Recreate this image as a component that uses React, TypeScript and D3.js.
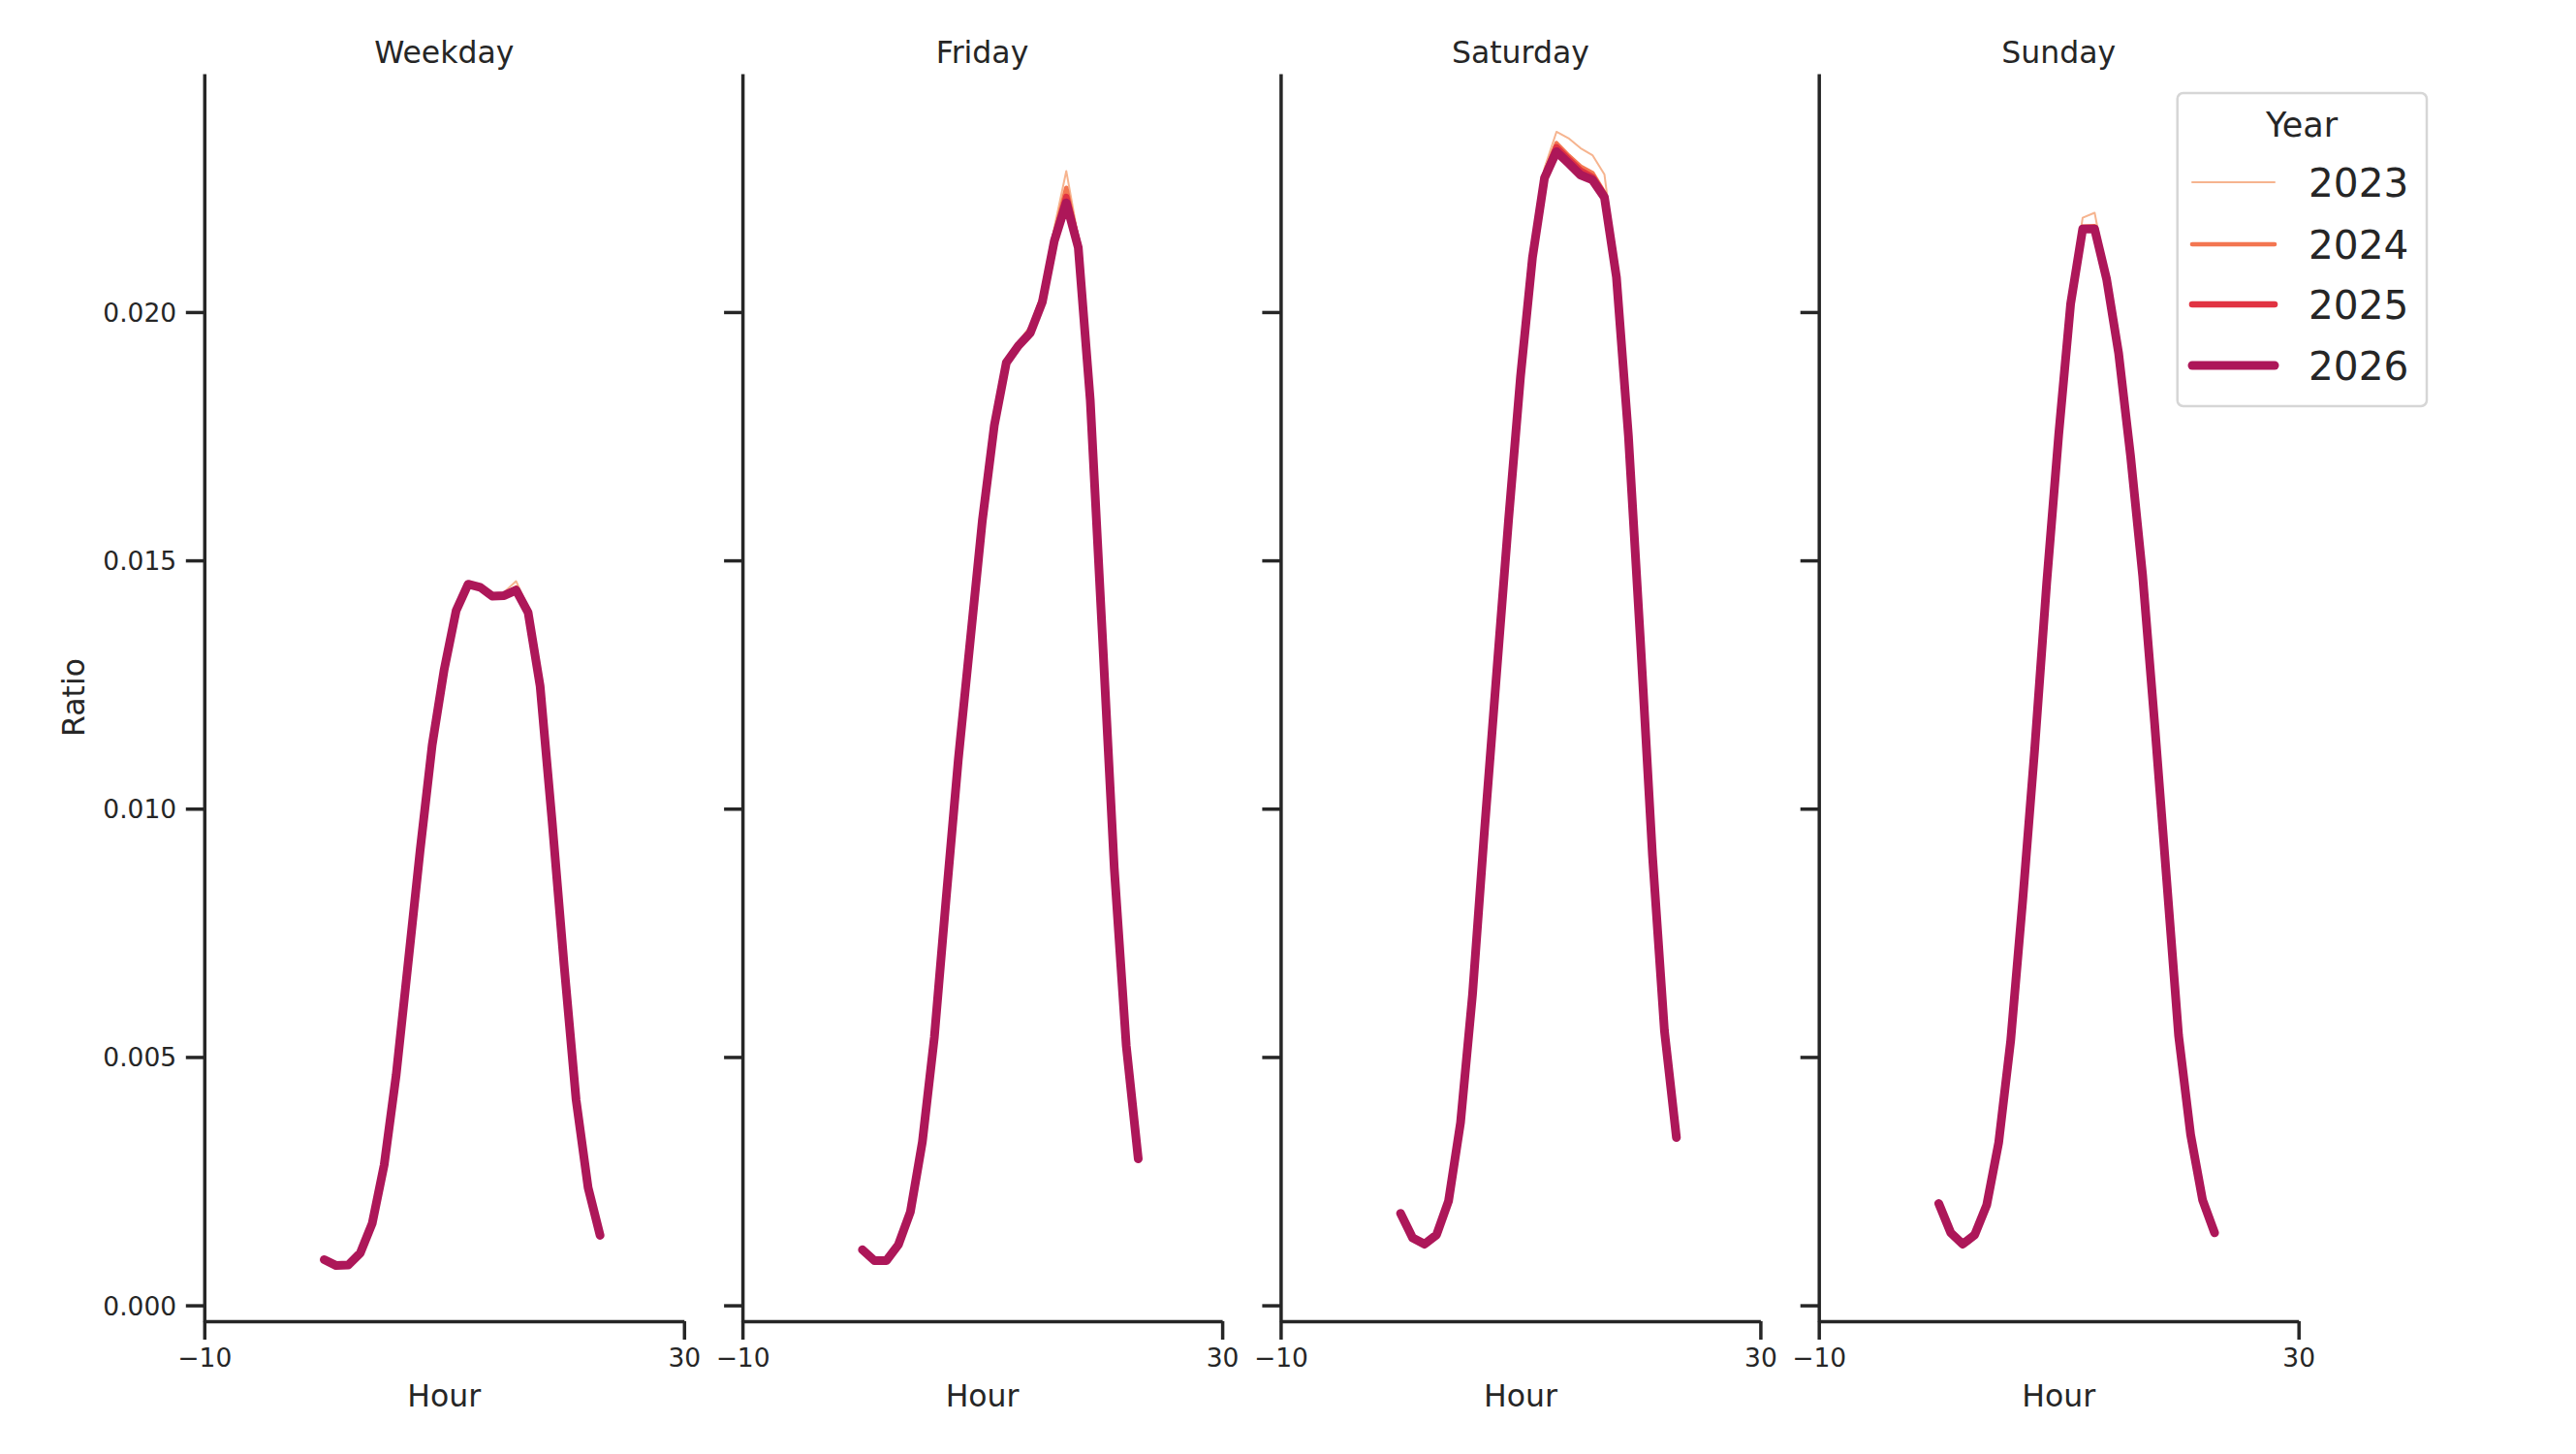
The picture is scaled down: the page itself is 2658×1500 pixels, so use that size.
import { useEffect, useRef } from "react";
import * as d3 from "d3";

// ---- data ----
const hours = [0, 1, 2, 3, 4, 5, 6, 7, 8, 9, 10, 11, 12, 13, 14, 15, 16, 17, 18, 19, 20, 21, 22, 23];
const panels = ["Weekday", "Friday", "Saturday", "Sunday"];
const years = ["2023", "2024", "2025", "2026"];
const xTicks = [-10, 30];
const yTicks = [0, 0.005, 0.01, 0.015, 0.02];

const weekday2023 = [0.00093, 0.00081, 0.00082, 0.00106, 0.00166, 0.00284, 0.00465, 0.00691, 0.00918, 0.01129, 0.01281, 0.01400, 0.01452, 0.01448, 0.01432, 0.01436, 0.01458, 0.01405, 0.01250, 0.00977, 0.00686, 0.00415, 0.00238, 0.00142];
const weekday2024 = [0.00092, 0.00080, 0.00081, 0.00105, 0.00165, 0.00283, 0.00464, 0.00690, 0.00917, 0.01128, 0.01280, 0.01399, 0.01452, 0.01447, 0.01429, 0.01431, 0.01445, 0.01398, 0.01248, 0.00976, 0.00685, 0.00414, 0.00237, 0.00141];
const weekday2025 = [0.00092, 0.00080, 0.00081, 0.00105, 0.00165, 0.00283, 0.00464, 0.00690, 0.00917, 0.01128, 0.01280, 0.01399, 0.01452, 0.01446, 0.01428, 0.01430, 0.01442, 0.01396, 0.01247, 0.00975, 0.00685, 0.00414, 0.00237, 0.00141];
const weekday2026 = [0.00092, 0.00080, 0.00081, 0.00105, 0.00165, 0.00283, 0.00464, 0.00690, 0.00917, 0.01128, 0.01280, 0.01399, 0.01452, 0.01446, 0.01428, 0.01429, 0.01440, 0.01395, 0.01247, 0.00975, 0.00685, 0.00414, 0.00237, 0.00141];

const friday2023 = [0.00113, 0.00091, 0.00091, 0.00123, 0.00189, 0.00330, 0.00541, 0.00826, 0.01102, 0.01342, 0.01582, 0.01775, 0.01905, 0.01940, 0.01972, 0.02040, 0.02170, 0.02284, 0.02150, 0.01830, 0.01356, 0.00882, 0.00524, 0.00296];
const friday2024 = [0.00112, 0.00090, 0.00090, 0.00122, 0.00188, 0.00329, 0.00540, 0.00825, 0.01101, 0.01341, 0.01581, 0.01773, 0.01900, 0.01935, 0.01965, 0.02030, 0.02155, 0.02250, 0.02140, 0.01826, 0.01355, 0.00881, 0.00523, 0.00295];
const friday2025 = [0.00112, 0.00090, 0.00090, 0.00122, 0.00188, 0.00329, 0.00540, 0.00824, 0.01100, 0.01340, 0.01580, 0.01772, 0.01899, 0.01933, 0.01960, 0.02024, 0.02148, 0.02232, 0.02135, 0.01824, 0.01354, 0.00880, 0.00523, 0.00295];
const friday2026 = [0.00112, 0.00090, 0.00090, 0.00122, 0.00188, 0.00329, 0.00540, 0.00824, 0.01100, 0.01340, 0.01580, 0.01772, 0.01898, 0.01932, 0.01958, 0.02020, 0.02143, 0.02220, 0.02130, 0.01822, 0.01353, 0.00880, 0.00523, 0.00295];

const saturday2023 = [0.00186, 0.00137, 0.00124, 0.00143, 0.00211, 0.00369, 0.00628, 0.00960, 0.01274, 0.01585, 0.01877, 0.02122, 0.02290, 0.02363, 0.02350, 0.02330, 0.02316, 0.02277, 0.02090, 0.01758, 0.01342, 0.00909, 0.00554, 0.00339];
const saturday2024 = [0.00185, 0.00136, 0.00123, 0.00142, 0.00210, 0.00368, 0.00627, 0.00958, 0.01272, 0.01582, 0.01873, 0.02115, 0.02278, 0.02340, 0.02315, 0.02293, 0.02280, 0.02240, 0.02076, 0.01753, 0.01340, 0.00908, 0.00553, 0.00338];
const saturday2025 = [0.00185, 0.00136, 0.00123, 0.00142, 0.00210, 0.00368, 0.00626, 0.00957, 0.01271, 0.01581, 0.01871, 0.02112, 0.02273, 0.02332, 0.02308, 0.02285, 0.02272, 0.02235, 0.02073, 0.01751, 0.01339, 0.00907, 0.00553, 0.00338];
const saturday2026 = [0.00185, 0.00136, 0.00123, 0.00142, 0.00210, 0.00368, 0.00626, 0.00957, 0.01270, 0.01580, 0.01870, 0.02110, 0.02270, 0.02323, 0.02300, 0.02276, 0.02266, 0.02231, 0.02070, 0.01750, 0.01338, 0.00907, 0.00553, 0.00338];

const sunday2023 = [0.00206, 0.00147, 0.00124, 0.00143, 0.00203, 0.00329, 0.00535, 0.00818, 0.01124, 0.01460, 0.01760, 0.02030, 0.02190, 0.02200, 0.02075, 0.01921, 0.01712, 0.01472, 0.01174, 0.00859, 0.00544, 0.00345, 0.00213, 0.00147];
const sunday2024 = [0.00205, 0.00146, 0.00123, 0.00142, 0.00202, 0.00328, 0.00534, 0.00816, 0.01121, 0.01456, 0.01755, 0.02021, 0.02172, 0.02173, 0.02069, 0.01918, 0.01710, 0.01471, 0.01173, 0.00858, 0.00543, 0.00344, 0.00212, 0.00146];
const sunday2025 = [0.00205, 0.00146, 0.00123, 0.00142, 0.00202, 0.00328, 0.00533, 0.00815, 0.01120, 0.01455, 0.01753, 0.02018, 0.02168, 0.02168, 0.02067, 0.01917, 0.01709, 0.01470, 0.01172, 0.00858, 0.00543, 0.00344, 0.00212, 0.00146];
const sunday2026 = [0.00205, 0.00146, 0.00123, 0.00142, 0.00202, 0.00328, 0.00533, 0.00815, 0.01120, 0.01454, 0.01752, 0.02017, 0.02167, 0.02167, 0.02066, 0.01917, 0.01709, 0.01470, 0.01172, 0.00858, 0.00543, 0.00344, 0.00212, 0.00146];

const ratios: Record<string, number[][]> = {
  Weekday: [weekday2023, weekday2024, weekday2025, weekday2026],
  Friday: [friday2023, friday2024, friday2025, friday2026],
  Saturday: [saturday2023, saturday2024, saturday2025, saturday2026],
  Sunday: [sunday2023, sunday2024, sunday2025, sunday2026],
};

// ---- style ----
const FONT = "'DejaVu Sans', sans-serif";
const INK = "#262626";
const yearColors = ["#f6b48f", "#f37651", "#e13342", "#ad1759"];
const yearWidths = [2, 4.6, 6.6, 9];

const W = 2658;
const H = 1500;
const panelLeft = 210.8;
const panelStep = 555.3;
const panelWidth = 495;
const top = 76;
const bottom = 1363;

const AxisG: React.FC<{ axis: d3.Axis<any>; transform: string; dy?: string }> = ({ axis, transform, dy }) => {
  const ref = useRef<SVGGElement>(null);
  useEffect(() => {
    const g = d3.select(ref.current!);
    g.call(axis as any);
    g.attr("font-family", FONT).attr("font-size", 26.5);
    g.selectAll(".domain").attr("stroke", INK).attr("stroke-width", 3.5);
    g.selectAll(".tick line").attr("stroke", INK).attr("stroke-width", 3.5);
    g.selectAll(".tick text").attr("fill", INK);
    if (dy) g.selectAll(".tick text").attr("dy", dy);
  });
  return <g ref={ref} transform={transform} />;
};

const Panel: React.FC<{ name: string; index: number }> = ({ name, index }) => {
  const left = panelLeft + index * panelStep;
  const x = d3.scaleLinear().domain([-10, 30]).range([left, left + panelWidth]);
  const y = d3.scaleLinear().domain([-0.00032, 0.0248]).range([bottom, top]);

  const xAxis = d3.axisBottom(x).tickValues(xTicks).tickSize(19).tickSizeOuter(0).tickPadding(9.5).tickFormat(d3.format("d"));
  const yAxis = d3
    .axisLeft(y)
    .tickValues(yTicks)
    .tickSize(19)
    .tickSizeOuter(0)
    .tickPadding(9.6)
    .tickFormat(index === 0 ? d3.format(".3f") : () => "");

  const line = d3
    .line<number>()
    .x((_, i) => x(hours[i]))
    .y((d) => y(d));

  const cx = left + panelWidth / 2;

  return (
    <g>
      <text x={cx} y={65} textAnchor="middle" fontSize={31.5} fill={INK}>
        {name}
      </text>
      {ratios[name].map((vals, i) => (
        <path
          key={years[i]}
          d={line(vals) ?? ""}
          fill="none"
          stroke={yearColors[i]}
          strokeWidth={yearWidths[i]}
          strokeLinejoin="round"
          strokeLinecap="round"
        />
      ))}
      <AxisG axis={xAxis} transform={`translate(0,${bottom})`} />
      <AxisG axis={yAxis} transform={`translate(${left},0)`} dy="0.36em" />
      <text x={cx} y={1451} textAnchor="middle" fontSize={31.5} fill={INK}>
        Hour
      </text>
    </g>
  );
};

const Legend: React.FC = () => {
  const bx = 2246.7;
  const by = 96;
  const rowY = [188, 252, 314, 377];
  return (
    <g>
      <rect x={bx} y={by} width={257.3} height={323} rx={6} fill="#ffffff" fillOpacity={0.8} stroke="#d6d6d6" strokeWidth={2.5} />
      <text x={2375} y={141} textAnchor="middle" fontSize={35} fill={INK}>
        Year
      </text>
      {years.map((yr, i) => (
        <g key={yr}>
          <line x1={2262} x2={2347} y1={rowY[i]} y2={rowY[i]} stroke={yearColors[i]} strokeWidth={yearWidths[i]} strokeLinecap="round" />
          <text x={2382} y={rowY[i] + 15} fontSize={40.6} fill={INK}>
            {yr}
          </text>
        </g>
      ))}
    </g>
  );
};

export default function App() {
  return (
    <svg
      width={W}
      height={H}
      viewBox={`0 0 ${W} ${H}`}
      style={{ position: "absolute", left: 0, top: 0, background: "#ffffff" }}
      fontFamily={FONT}
    >
      <rect x={0} y={0} width={W} height={H} fill="#ffffff" />
      {panels.map((p, i) => (
        <Panel key={p} name={p} index={i} />
      ))}
      <text transform={`translate(86.7,${(top + bottom) / 2}) rotate(-90)`} textAnchor="middle" fontSize={31.5} fill={INK}>
        Ratio
      </text>
      <Legend />
    </svg>
  );
}
